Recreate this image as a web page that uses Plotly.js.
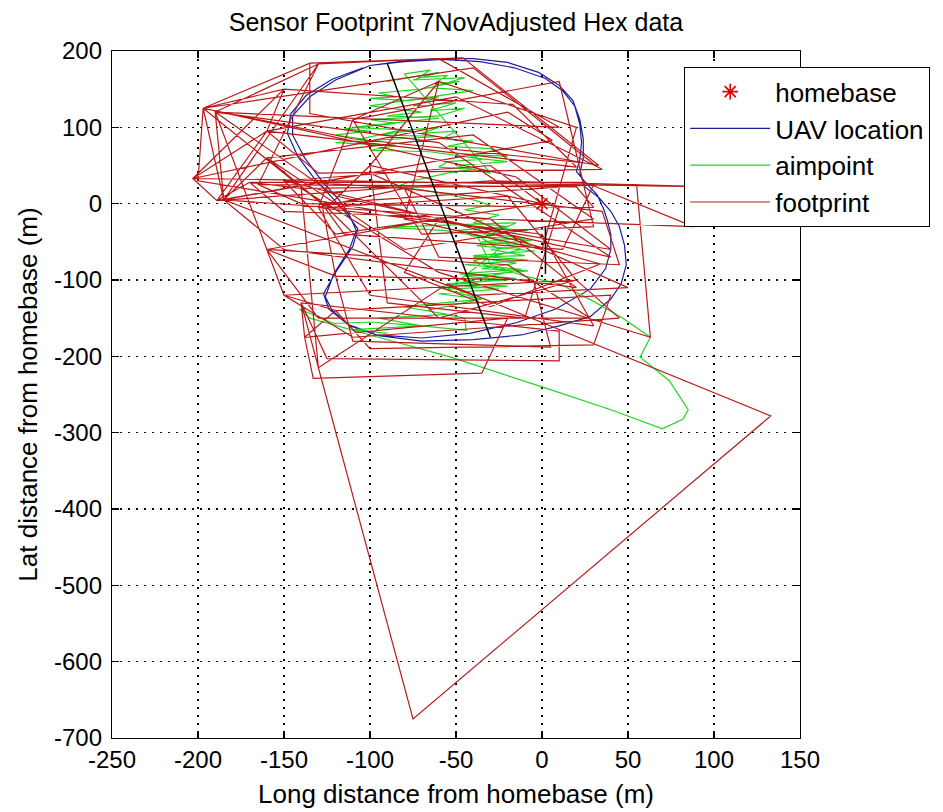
<!DOCTYPE html>
<html>
<head>
<meta charset="utf-8">
<script src="https://cdn.plot.ly/plotly-3.0.1.min.js"></script>
<style>
  html, body { margin: 0; padding: 0; background: #fff; }
  #chart { width: 943px; height: 812px; }
</style>
</head>
<body>
<div id="chart"></div>
<script>
// Home base position (local metric frame, metres)
const homebaseX = [0];
const homebaseY = [0];

// UAV ground track: two orbits around the target area
const uavX = [-100, -80, -60, -40, -20, -2, 10, 18, 22, 24, 24, 22, 25, 33, 40, 45, 48, 49, 46, 40, 28, 10, -12, -40, -70, -95, -112, -122, -126, -121, -112, -108, -112, -118, -128, -138, -145, -145, -135, -120, -100,
              -80, -58, -36, -16, 2, 12, 19, 22, 23, 22, 20, 26, 32, 36, 38, 40, 40, 37, 28, 8, -15, -42, -70, -96, -113, -124, -127, -120, -110, -107, -114, -122, -132, -142, -148, -146, -137, -122, -104];
const uavY = [181, 187, 190, 190, 185, 172, 155, 135, 110, 85, 60, 40, 22, 8, -10, -30, -55, -80, -105, -125, -148, -160, -172, -178, -180, -173, -160, -140, -122, -92, -60, -35, -15, 5, 30, 60, 90, 115, 140, 162, 181,
              186, 189, 186, 178, 164, 148, 128, 104, 80, 58, 42, 26, 12, -8, -22, -40, -60, -85, -112, -138, -156, -170, -176, -172, -158, -138, -118, -90, -56, -33, -12, 8, 32, 62, 92, 118, 142, 163, 178];

// Camera aimpoint track
const aimX = [-90, -60, -75, -45, -65, -40, -100, -70, -90, -60, -110, -75, -95, -60, -120, -85, -100, -65, -40, -20, -50, -30,
              -80, -65, -72, -55, -62, -48, -70, -95, -85, -100, -78, -60, -75, -50, -65, -45, -60, -100, -85, -115, -100, -120, -105, -85, -60, -70, -50, -58, -40, -55, -30, -20, -45, -35, -55, -60, -40, -55, -75, -85, -70, -50, -40, -30, -45, -25, -40, -20, -50, -30, -10, -35, -5, -30, -10, -40, -15, -35, -8, -45, -20, -55, -25, -60, -35, -67, -45, -44, -70, -100, -121, -141, -135, -100, -53, 0, 40, 70, 82, 85, 74, 57, 63, 47, 30, 10, -10, -30,
              -40, -8, -42, -6, -38, -4, -40, -8, -45, -12, -48, -15, -50, -20, -55, -25, -35, -15,
              -92, -57, -30, -12, -40, -20, -60, -35, -80, -55, -95, -70, -110, -90];
const aimY = [160, 172, 162, 165, 152, 148, 128, 120, 115, 112, 100, 96, 90, 88, 80, 76, 70, 68, 60, 55, 50, 40,
              170, 175, 165, 168, 158, 160, 150, 145, 140, 138, 135, 140, 128, 132, 122, 125, 115, 110, 105, 98, 95, 90, 85, 95, 100, 92, 95, 85, 82, 75, 72, 62, 65, 58, 55, 48, 45, 40, 30, 22, 18, 10, 5, -2, -8, -15, -25, -30, -35, -40, -45, -50, -55, -60, -68, -70, -78, -85, -88, -95, -100, -105, -112, -118, -125, -140, -150, -166, -160, -155, -157, -138, -150, -172, -201, -240, -270, -295, -282, -270, -232, -201, -175, -150, -128, -105, -95, -80,
              -30, -35, -42, -48, -55, -62, -68, -74, -80, -86, -92, -98, -104, -108, -112, -60, -45, -25,
              -31, -35, -45, -60, -75, -90, -110, -125, -135, -145, -150, -160, -165, -170];

// Sensor footprint corners, one quadrilateral after another
const footprintX = [
  -135, -46, 33, -135, -135,
  -197, -40, 30, -110, -197,
  -150, -17, 20, -160, -150,
  -203, -20, 6, -189, -203,
  -160, -50, 35, -130, -160,
  -189, -30, 100, -203, -189,
  -170, 25, 88, -150, -170,
  -140, 55, 63, -60, -140,
  -130, -55, 133, -75, -130,
  -140, 10, 10, -125, -140,
  -138, -20, -35, -133, -138,
  -120, 40, 30, -100, -120,
  -150, 20, 45, -110, -150,
  -190, -60, 40, -120, -190,
  -185, -100, 50, -40, -185,
  -160, -40, 30, -80, -160,
  -125, -20, 20, -60, -125,
  -100, 10, -10, -90, -100,
  -60, 20, 0, -80, -60,
  -110, 10, 30, -70, -110,
  -130, 0, 30, -100, -130,
  -80, 35, 45, -60, -80,
  -150, -30, 0, -120, -150,
  -60, 34, -30, -80, -60,
  -160, -20, 28, -130, -160,
  -120, -5, 5, -110, -120,
  -128, 30, 12, -115, -128,
  -197, -15, 40, -200, -197,
  -185, -30, 20, -150, -185,
  -130, -60, 10, -190, -130,
  -165, 20, 30, -140, -165
];
const footprintY = [
  184, 191, 50, 118, 184,
  125, 178, 52, 85, 125,
  150, 130, 48, 95, 150,
  33, 120, 83, 4, 33,
  95, 140, 45, 40, 95,
  4, 30, 22, 33, 4,
  28, 28, -30, -10, 28,
  20, 25, -175, -90, 20,
  -215, -105, -278, -675, -215,
  -130, -167, -206, -203, -130,
  -175, -150, -222, -229, -175,
  -140, -120, -185, -190, -140,
  -120, -100, -150, -175, -120,
  120, 80, -70, 10, 120,
  5, 40, -110, -120, 5,
  60, 90, -20, -60, 60,
  -5, 10, -100, -150, -5,
  50, -5, -150, -130, 50,
  160, 100, -60, -20, 160,
  110, 160, -30, -40, 110,
  -5, -40, -160, -120, -5,
  20, -10, -80, -70, 20,
  30, 50, 0, -40, 30,
  -20, -79, -135, -90, -20,
  -60, -80, -150, -150, -60,
  -95, -100, -188, -180, -95,
  0, 25, -60, -40, 0,
  125, 35, -60, 30, 125,
  5, -20, -110, -60, 5,
  183, 190, 100, 120, 183,
  25, 22, -5, 0, 25
];

// Orbit heading reference lines
const axisLineX = [-90, -30];
const axisLineY = [184, -175];
const markLineX = [2, 2];
const markLineY = [-30, -92];

// Tick positions and their printed labels
const xTickVals = [-250, -200, -150, -100, -50, 0, 50, 100, 150];
const xTickText = ['-250', '-200', '-150', '-100', '-50', '0', '50', '100', '150'];
const yTickVals = [-700, -600, -500, -400, -300, -200, -100, 0, 100, 200];
const yTickText = ['-700', '-600', '-500', '-400', '-300', '-200', '-100', '0', '100', '200'];

const FONT = 'Liberation Sans, Arial, sans-serif';

const traces = [
  {
    x: uavX, y: uavY, type: 'scatter', mode: 'lines', name: 'UAV location',
    line: { color: '#1c1c9c', width: 1.2 }, legendrank: 2, legendgroup: 'g2'
  },
  {
    x: aimX, y: aimY, type: 'scatter', mode: 'lines', name: 'aimpoint',
    line: { color: '#22d422', width: 1.2 }, legendrank: 3, legendgroup: 'g3'
  },
  {
    x: footprintX, y: footprintY, type: 'scatter', mode: 'lines', name: 'footprint',
    line: { color: '#bb1a1a', width: 1.2 }, legendrank: 4, legendgroup: 'g4'
  },
  {
    x: axisLineX, y: axisLineY, type: 'scatter', mode: 'lines', showlegend: false,
    line: { color: '#000000', width: 1.5 }, hoverinfo: 'skip'
  },
  {
    x: markLineX, y: markLineY, type: 'scatter', mode: 'lines', showlegend: false,
    line: { color: '#000000', width: 1.5 }, hoverinfo: 'skip'
  },
  {
    x: homebaseX, y: homebaseY, type: 'scatter', mode: 'markers', name: 'homebase',
    marker: { symbol: 'asterisk-open', size: 13, color: '#e00000', line: { color: '#e00000', width: 1.6 } },
    legendrank: 1, legendgroup: 'g1'
  }
];

const axisCommon = {
  showline: true, linecolor: '#000', linewidth: 1.2, mirror: 'ticks',
  ticks: 'inside', ticklen: 7, tickcolor: '#000', tickwidth: 1.2,
  showgrid: true, gridcolor: '#000', gridwidth: 1.2, griddash: '1.5px,6.5px',
  zeroline: false, tickmode: 'array', tickfont: { family: FONT, size: 24, color: '#000' }
};

const layout = {
  width: 943, height: 812,
  margin: { l: 112, r: 143, t: 51, b: 74 },
  paper_bgcolor: '#fff', plot_bgcolor: '#fff',
  font: { family: FONT, size: 24, color: '#000' },
  title: {
    text: 'Sensor Footprint 7NovAdjusted Hex data',
    font: { family: FONT, size: 25, color: '#000' },
    x: 0.5, xref: 'paper', xanchor: 'center', y: 0.972, yanchor: 'middle'
  },
  xaxis: Object.assign({}, axisCommon, {
    range: [-250, 150], tickvals: xTickVals, ticktext: xTickText,
    title: { text: 'Long distance from homebase (m)', font: { family: FONT, size: 26 }, standoff: 12 }
  }),
  yaxis: Object.assign({}, axisCommon, {
    range: [-700, 200], tickvals: yTickVals, ticktext: yTickText, ticklabelstandoff: 4,
    title: { text: 'Lat distance from homebase (m)', font: { family: FONT, size: 26 }, standoff: 8 }
  }),
  showlegend: true,
  legend: {
    x: 0.8314, y: 0.9767, xanchor: 'left', yanchor: 'top',
    bgcolor: '#fff', bordercolor: '#000', borderwidth: 1.2,
    font: { family: FONT, size: 26, color: '#000' },
    itemwidth: 80, traceorder: 'grouped', tracegroupgap: 0
  }
};

Plotly.newPlot('chart', traces, layout, { staticPlot: true, displayModeBar: false });
</script>
</body>
</html>
